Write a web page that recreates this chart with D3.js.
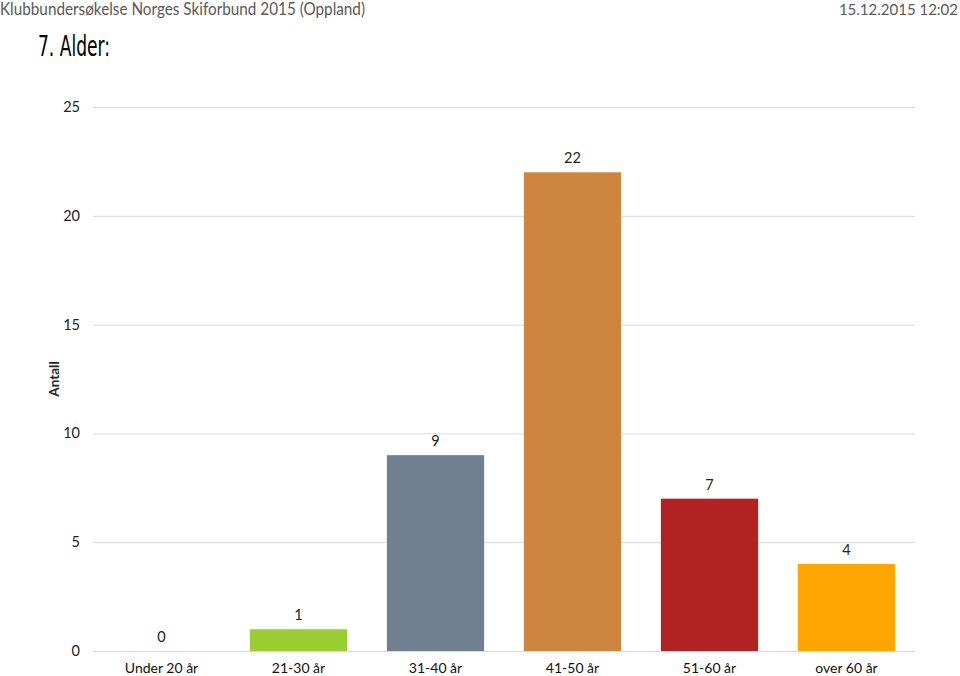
<!DOCTYPE html>
<html><head><meta charset="utf-8">
<script src="https://cdn.jsdelivr.net/npm/d3@7"></script>
<style>body{margin:0;background:#fff;} svg{display:block;}</style>
</head><body>
<svg id="c" width="960" height="676"></svg>
<script>
const categories = ["Under 20 år","21-30 år","31-40 år","41-50 år","51-60 år","over 60 år"];
const values = [0,1,9,22,7,4];
const colors = ["#4f81bd","#9acd32","#708090","#cd853f","#b22222","#ffa500"];
const yTicks = [0,5,10,15,20,25];

const svg = d3.select("#c");
const font = "Lato, 'Open Sans', sans-serif";
const x = d3.scaleBand().domain(categories).range([93,915]).paddingInner(0.29).paddingOuter(0.145);
const y = d3.scaleLinear().domain([0,25]).range([651,107]);

svg.append("text").attr("x",0).attr("y",15).attr("font-family",font).attr("font-size",16.5)
  .attr("textLength",365).attr("lengthAdjust","spacingAndGlyphs")
  .attr("fill","#595959").text("Klubbundersøkelse Norges Skiforbund 2015 (Oppland)");
svg.append("text").attr("x",958).attr("y",15).attr("text-anchor","end").attr("font-family",font).attr("font-size",15)
  .attr("fill","#595959").text("15.12.2015 12:02");
svg.append("text").attr("x",38).attr("y",56).attr("font-family","'Liberation Sans Narrow', 'DejaVu Sans Condensed', sans-serif").attr("font-size",28)
  .attr("textLength",72).attr("lengthAdjust","spacingAndGlyphs").attr("fill","#000").text("7. Alder:");

const g = svg.append("g");
g.selectAll("line.grid").data(yTicks).join("line").attr("class","grid")
  .attr("x1",93).attr("x2",915).attr("y1",d=>y(d)+0.5).attr("y2",d=>y(d)+0.5)
  .attr("stroke","#d9d9d9").attr("stroke-width",1);
g.selectAll("text.yt").data(yTicks).join("text").attr("class","yt")
  .attr("x",80).attr("y",d=>y(d)+5).attr("text-anchor","end").attr("font-family",font).attr("font-size",14.5)
  .attr("fill","#222").text(d=>d);

svg.append("text").attr("transform","translate(59,379) rotate(-90)").attr("text-anchor","middle")
  .attr("font-family",font).attr("font-weight","bold").attr("font-size",13.5).attr("fill","#222").text("Antall");

g.selectAll("rect.bar").data(values).join("rect").attr("class","bar")
  .attr("x",(d,i)=>x(categories[i])).attr("width",x.bandwidth())
  .attr("y",d=>y(d)).attr("height",d=>y(0)-y(d)).attr("fill",(d,i)=>colors[i]);

g.selectAll("text.val").data(values).join("text").attr("class","val")
  .attr("x",(d,i)=>x(categories[i])+x.bandwidth()/2).attr("y",d=>y(d)-9)
  .attr("text-anchor","middle").attr("font-family",font).attr("font-size",14.5).attr("fill","#222").text(d=>d);

g.selectAll("text.cat").data(categories).join("text").attr("class","cat")
  .attr("x",d=>x(d)+x.bandwidth()/2).attr("y",673)
  .attr("text-anchor","middle").attr("font-family",font).attr("font-size",14).attr("fill","#111").text(d=>d);
</script>
</body></html>
